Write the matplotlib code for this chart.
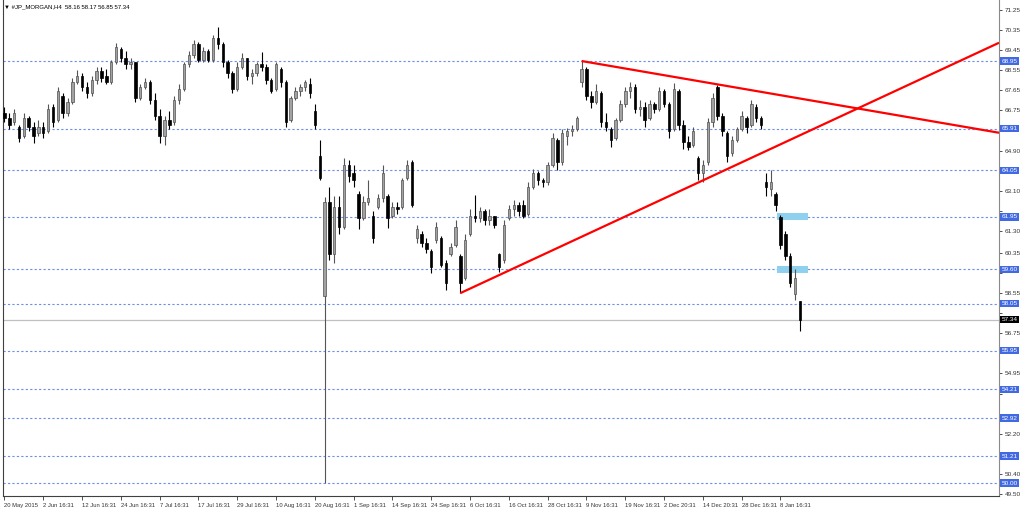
import numpy as np
import matplotlib
matplotlib.use("Agg")
import matplotlib.pyplot as plt

plt.rcParams['font.family'] = ['Liberation Sans Narrow', 'Liberation Sans', 'DejaVu Sans']

# daily candles (index = trading day from 20 May 2015)
opens = [66.6, 66.4, 66.2, 66.0, 65.6, 66.4, 66.0, 65.7, 66.0, 65.8,
         66.9, 66.3, 67.4, 66.6, 67.1, 68.0, 68.3, 67.8, 67.5, 68.1,
         68.5, 68.3, 68.0, 68.9, 69.5, 69.1, 68.8, 68.9, 67.3, 67.8,
         68.0, 67.2, 66.5, 65.6, 66.3, 66.2, 67.2, 67.7, 68.8, 69.2,
         69.7, 69.0, 69.4, 69.0, 70.0, 69.7, 68.9, 68.4, 67.7, 68.7,
         69.1, 68.3, 68.4, 68.8, 68.7, 68.1, 67.7, 68.6, 68.0, 66.3,
         67.3, 67.6, 67.8, 67.9, 66.7, 64.7, 58.4, 62.6, 60.3, 62.4,
         61.5, 64.3, 63.9, 63.0, 61.9, 62.6, 62.0, 62.4, 62.8, 62.9,
         62.0, 62.4, 62.4, 63.7, 64.4, 61.0, 61.2, 60.8, 60.4, 60.9,
         61.0, 59.9, 60.3, 60.7, 60.2, 59.2, 61.2, 62.0, 61.9, 62.2,
         61.8, 62.0, 60.3, 60.0, 61.9, 62.3, 62.5, 62.5, 62.1, 63.3,
         63.9, 63.6, 63.5, 64.3, 65.4, 64.4, 65.6, 65.8, 65.9, 68.0,
         68.6, 67.4, 67.1, 67.5, 66.2, 65.9, 65.5, 66.3, 67.0, 67.6,
         67.8, 66.8, 66.9, 66.4, 67.0, 66.8, 67.6, 67.0, 65.9, 67.6,
         66.1, 65.3, 65.2, 64.6, 63.9, 64.4, 66.2, 67.8, 66.5, 65.7,
         64.8, 65.4, 65.9, 66.4, 66.1, 66.9, 66.4, 63.5, 63.2, 63.0,
         61.95, 61.2, 60.2, 58.5, 58.16]
highs = [66.9, 66.6, 66.8, 66.1, 66.6, 66.5, 66.2, 66.3, 66.2, 67.0,
         67.0, 67.8, 67.5, 67.3, 68.2, 68.55, 68.4, 68.0, 68.3, 68.7,
         68.7, 68.6, 69.0, 69.76, 69.6, 69.4, 69.1, 68.9, 67.9, 68.2,
         68.1, 67.5, 66.8, 66.5, 66.7, 67.4, 67.9, 68.9, 69.4, 69.9,
         69.8, 69.6, 69.5, 70.1, 70.48, 69.8, 69.0, 68.5, 68.9, 69.3,
         69.1, 68.6, 68.9, 69.35, 68.8, 68.2, 68.9, 68.7, 68.1, 67.4,
         67.8, 67.9, 68.1, 68.2, 67.0, 65.4, 62.85, 63.3, 62.9, 62.9,
         64.6, 64.5, 64.3, 63.1, 62.9, 63.6, 62.2, 63.0, 64.3, 63.0,
         62.6, 62.6, 63.7, 64.5, 64.5, 61.6, 61.3, 61.0, 60.5, 61.7,
         61.1, 60.0, 60.8, 61.8, 60.3, 61.2, 62.3, 62.93, 62.4, 62.3,
         62.3, 62.0, 60.35, 61.8, 62.5, 62.7, 62.6, 62.7, 63.5, 64.1,
         64.0, 63.7, 64.4, 65.7, 65.5, 65.9, 65.95, 66.1, 66.5, 68.95,
         68.7, 67.6, 67.9, 67.6, 66.6, 66.0, 66.4, 67.2, 67.8, 68.0,
         67.9, 67.2, 67.1, 67.2, 67.1, 67.8, 67.7, 67.1, 67.95, 67.7,
         66.3, 65.6, 66.0, 64.7, 64.5, 66.4, 67.5, 67.87, 66.6, 65.8,
         65.6, 66.0, 66.7, 66.5, 67.2, 67.0, 66.5, 63.9, 64.05, 63.05,
         62.03, 61.3, 60.35, 59.6, 58.17]
lows = [66.2, 65.9, 66.1, 65.3, 65.5, 65.8, 65.25, 65.6, 65.5, 65.7,
        66.0, 66.2, 66.4, 66.5, 67.0, 67.9, 67.6, 67.3, 67.4, 67.9,
        68.0, 67.9, 67.9, 68.8, 68.9, 68.6, 68.6, 67.1, 67.2, 67.7,
        67.0, 66.3, 65.25, 65.2, 65.9, 66.1, 67.0, 67.6, 68.7, 69.1,
        68.9, 68.9, 68.9, 68.9, 69.5, 68.7, 68.2, 67.5, 67.6, 68.6,
        68.1, 67.9, 68.3, 68.5, 67.9, 67.5, 67.6, 67.8, 66.0, 66.2,
        67.2, 67.4, 67.6, 67.3, 65.9, 63.6, 50.0, 60.0, 59.9, 61.2,
        61.4, 63.5, 63.3, 61.4, 61.8, 62.5, 60.8, 62.3, 62.6, 61.45,
        61.9, 62.1, 62.3, 63.6, 62.4, 60.8, 60.6, 60.35, 59.45, 60.8,
        59.7, 58.67, 60.2, 60.6, 58.53, 59.1, 61.1, 61.7, 61.7, 61.6,
        61.6, 61.45, 59.48, 59.9, 61.8, 62.0, 62.0, 61.9, 62.0, 63.2,
        63.4, 63.3, 63.4, 64.2, 64.05, 64.3, 65.2, 65.6, 65.8, 67.8,
        67.2, 66.85, 67.0, 66.0, 65.8, 65.1, 65.4, 66.2, 66.9, 67.3,
        66.6, 66.5, 66.0, 66.3, 66.6, 66.7, 66.9, 65.5, 65.8, 65.85,
        65.0, 64.95, 65.1, 63.6, 63.5, 64.3, 66.0, 66.3, 65.6, 64.4,
        64.7, 65.3, 65.8, 65.7, 66.0, 66.2, 65.9, 62.9, 62.9, 62.2,
        60.5, 60.0, 58.8, 58.2, 56.85]
closes = [66.4, 66.1, 66.6, 65.5, 66.4, 66.0, 65.6, 66.0, 65.7, 66.8,
          66.2, 67.6, 66.6, 67.1, 68.0, 68.3, 67.8, 67.5, 68.1, 68.5,
          68.2, 68.0, 68.9, 69.6, 69.1, 68.8, 68.9, 67.3, 67.8, 68.0,
          67.2, 66.5, 65.6, 66.3, 66.1, 67.2, 67.7, 68.8, 69.2, 69.7,
          69.0, 69.4, 69.0, 70.0, 69.7, 68.9, 68.4, 67.7, 68.7, 69.1,
          68.3, 68.4, 68.8, 68.7, 68.1, 67.6, 68.8, 68.0, 66.2, 67.3,
          67.6, 67.8, 68.0, 67.5, 66.1, 63.7, 62.6, 60.3, 62.4, 61.5,
          64.3, 63.8, 63.6, 61.9, 62.6, 62.8, 61.0, 62.8, 63.9, 61.9,
          62.4, 62.3, 63.6, 64.3, 62.5, 61.4, 60.8, 60.5, 59.7, 61.5,
          59.8, 59.0, 60.6, 61.5, 59.0, 60.9, 62.0, 61.9, 62.2, 61.8,
          62.0, 61.6, 59.7, 61.6, 62.3, 62.5, 62.2, 62.0, 63.3, 63.9,
          63.6, 63.5, 64.3, 65.5, 64.4, 65.7, 65.8, 65.9, 66.4, 68.6,
          67.4, 67.1, 67.6, 66.2, 66.0, 65.4, 66.3, 67.0, 67.6, 67.8,
          66.8, 66.9, 66.3, 67.0, 66.8, 67.6, 67.0, 65.8, 67.7, 66.1,
          65.3, 65.1, 65.8, 63.9, 64.3, 66.2, 67.3, 66.5, 65.8, 64.7,
          65.4, 65.9, 66.5, 66.0, 67.0, 66.4, 66.1, 63.3, 63.5, 62.5,
          60.7, 60.2, 59.0, 59.2, 57.34]

date_pos = [0, 8, 16, 24, 32, 40, 48, 56, 64, 72, 80, 88, 96, 104, 112,
            120, 128, 136, 144, 152, 160]
date_labels = ['20 May 2015', '2 Jun 16:31', '12 Jun 16:31', '24 Jun 16:31',
               '7 Jul 16:31', '17 Jul 16:31', '29 Jul 16:31', '10 Aug 16:31',
               '20 Aug 16:31', '1 Sep 16:31', '14 Sep 16:31', '24 Sep 16:31',
               '6 Oct 16:31', '16 Oct 16:31', '28 Oct 16:31', '9 Nov 16:31',
               '19 Nov 16:31', '2 Dec 20:31', '14 Dec 20:31', '28 Dec 16:31',
               '8 Jan 16:31']
price_ticks = [71.25, 70.35, 69.45, 68.55, 67.65, 66.75, 65.85, 64.90, 64.00,
               63.10, 62.20, 61.30, 60.35, 59.45, 58.55, 57.65, 56.75, 55.85,
               54.95, 54.00, 53.10, 52.20, 51.30, 50.40, 49.50]
levels = [68.95, 65.91, 64.05, 61.95, 59.60, 58.05, 55.95, 54.21, 52.92, 51.21, 50.00]
last_price = 57.34

# trend lines (day index, price)
down_x = [119, 205.05]
down_y = [68.95, 65.73]
up_x = [94, 205.05]
up_y = [58.53, 69.77]

# highlighted zones
zone_x0 = [159.3, 159.3]
zone_x1 = [165.7, 165.7]
zone_y = [61.95, 59.60]

fig = plt.figure(figsize=(10.24, 5.09), dpi=100)
ax = fig.add_axes([3/1024, 13/509, 996/1024, 496/509])

x = np.arange(len(opens))
o = np.array(opens); h = np.array(highs); l = np.array(lows); c = np.array(closes)
bull = c >= o

ax.vlines(x[bull], l[bull], h[bull], color='#555555', lw=0.8, zorder=3)
ax.vlines(x[~bull], l[~bull], h[~bull], color='black', lw=0.8, zorder=3)
body_lo = np.minimum(o, c)
body_h = np.maximum(np.abs(c - o), 0.04)
ax.bar(x[bull], body_h[bull], bottom=body_lo[bull], width=0.5,
       color='#a2a2a2', edgecolor='#505050', linewidth=0.5, zorder=4)
ax.bar(x[~bull], body_h[~bull], bottom=body_lo[~bull], width=0.5,
       color='black', edgecolor='black', linewidth=0.5, zorder=4)

for lv in levels:
    ax.axhline(lv, color='#6f8ee8', lw=0.8, ls=(0, (2, 2)), zorder=1)
    ax.text(1.0025, lv, f'{lv:.2f}', transform=ax.get_yaxis_transform(),
            fontsize=4.6, color='white', va='center', ha='left', zorder=10,
            bbox=dict(boxstyle='square,pad=0.18', fc='#4169e1', ec='none'),
            clip_on=False)
ax.axhline(last_price, color='#c0c0c0', lw=0.9, zorder=1)
ax.text(1.0025, last_price, f'{last_price:.2f}', transform=ax.get_yaxis_transform(),
        fontsize=4.6, color='white', va='center', ha='left', zorder=10,
        bbox=dict(boxstyle='square,pad=0.18', fc='black', ec='none'), clip_on=False)

for x0, x1, yv in zip(zone_x0, zone_x1, zone_y):
    ax.fill_between([x0, x1], yv - 0.16, yv + 0.16, color='#8fd0ee', lw=0, zorder=2)

ax.plot(down_x, down_y, color='red', lw=1.6, zorder=5, solid_capstyle='butt')
ax.plot(up_x, up_y, color='red', lw=1.6, zorder=5, solid_capstyle='butt')

ax.set_xlim(-0.3, 205.05)
ax.set_ylim(49.42, 71.69)

ax.set_xticks(date_pos)
ax.set_xticklabels(date_labels, fontsize=4.2)
for lab in ax.get_xticklabels():
    lab.set_ha('left')
ax.tick_params(axis='x', length=3, width=0.6, pad=2, colors='#333333')

# price scale on the right; labels hidden behind the level boxes are left blank
marked = levels + [last_price]
ax.yaxis.tick_right()
ax.set_yticks(price_ticks)
ax.set_yticklabels(['' if min(abs(v - m) for m in marked) < 0.32 else f'{v:.2f}'
                    for v in price_ticks], fontsize=4.6)
ax.tick_params(axis='y', length=2.5, width=0.6, pad=1.5, colors='#333333')

ax.spines['top'].set_visible(False)
ax.spines['left'].set_color('#404040')
ax.spines['bottom'].set_color('#404040')
ax.spines['right'].set_color('#8a8a8a')

fig.text(4/1024, 1 - 7/509, '\u25bc #JP_MORGAN,H4  58.16 58.17 56.85 57.34',
         fontsize=4.3, va='center', ha='left', color='black',
         family=['Liberation Sans Narrow', 'Liberation Sans', 'DejaVu Sans'])

fig.savefig('out.png', dpi=100)
